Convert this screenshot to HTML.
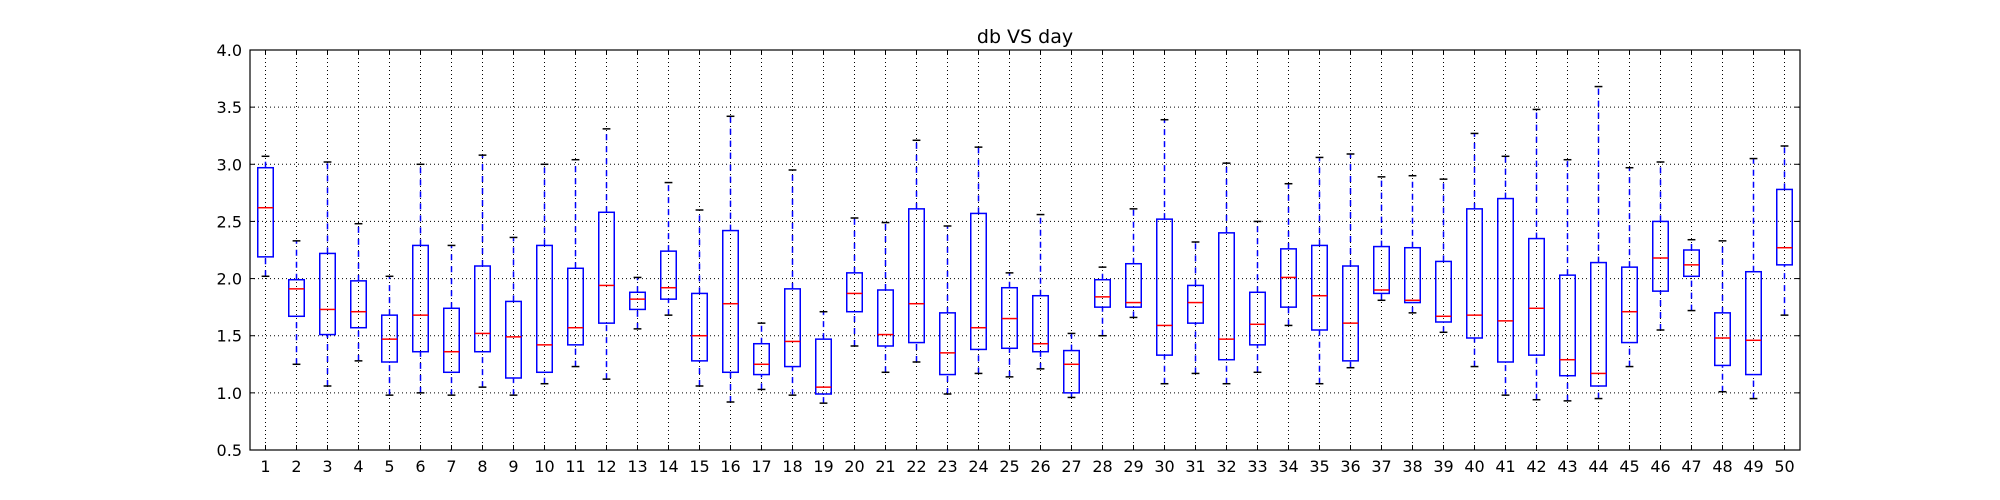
<!DOCTYPE html>
<html><head><meta charset="utf-8"><style>body{margin:0;background:#fff}svg{display:block}</style></head>
<body>
<svg id="s" width="2000" height="500" xmlns="http://www.w3.org/2000/svg" font-family="'DejaVu Sans','Liberation Sans',sans-serif"></svg>
<script>
const D=[[2.02,2.19,2.62,2.97,3.07],[1.25,1.67,1.91,1.99,2.33],[1.06,1.51,1.73,2.22,3.02],[1.28,1.57,1.71,1.98,2.48],[0.98,1.27,1.47,1.68,2.02],[1.0,1.36,1.68,2.29,3.0],[0.98,1.18,1.36,1.74,2.29],[1.05,1.36,1.52,2.11,3.08],[0.98,1.13,1.49,1.80,2.36],[1.08,1.18,1.42,2.29,3.0],[1.23,1.42,1.57,2.09,3.04],
[1.12,1.61,1.94,2.58,3.31],[1.56,1.73,1.82,1.88,2.01],[1.68,1.82,1.92,2.24,2.84],[1.06,1.28,1.50,1.87,2.60],[0.92,1.18,1.78,2.42,3.42],[1.03,1.16,1.25,1.43,1.61],[0.98,1.23,1.45,1.91,2.95],[0.91,0.99,1.05,1.47,1.71],[1.41,1.71,1.87,2.05,2.53],[1.18,1.41,1.51,1.90,2.49],[1.27,1.44,1.78,2.61,3.21],[0.99,1.16,1.35,1.70,2.46],[1.17,1.38,1.57,2.57,3.15],[1.14,1.39,1.65,1.92,2.05],[1.21,1.36,1.43,1.85,2.56],[0.96,1.00,1.25,1.37,1.52],[1.50,1.75,1.84,1.99,2.10],[1.66,1.75,1.79,2.13,2.61],[1.08,1.33,1.59,2.52,3.39],[1.17,1.61,1.79,1.94,2.32],[1.08,1.29,1.47,2.40,3.01],[1.18,1.42,1.60,1.88,2.50],[1.59,1.75,2.01,2.26,2.83],[1.08,1.55,1.85,2.29,3.06],[1.22,1.28,1.61,2.11,3.09],[1.81,1.87,1.90,2.28,2.89],[1.70,1.79,1.81,2.27,2.90],[1.53,1.62,1.67,2.15,2.87],[1.23,1.48,1.68,2.61,3.27],[0.98,1.27,1.63,2.70,3.07],[0.94,1.33,1.74,2.35,3.48],[0.93,1.15,1.29,2.03,3.04],[0.95,1.06,1.17,2.14,3.68],[1.23,1.44,1.71,2.10,2.97],[1.55,1.89,2.18,2.50,3.02],[1.72,2.02,2.12,2.25,2.34],[1.01,1.24,1.48,1.70,2.33],[0.95,1.16,1.46,2.06,3.05],[1.68,2.12,2.27,2.78,3.16]];
const L=250,R=1800,T=50,B=450;
const y=v=>B-(v-0.5)*(400/3.5);
const x=i=>L+31*(i-0.5);
let h='';
h+=`<text x="1025" y="43" font-size="19" text-anchor="middle">db VS day</text>`;
for(let k=0;k<8;k++){const v=0.5+k*0.5,yy=y(v);
 if(k>0&&k<7)h+=`<line x1="${L}" x2="${R}" y1="${yy}" y2="${yy}" stroke="#000" stroke-width="1" stroke-dasharray="1,3"/>`;
 h+=`<line x1="${L}" x2="${L+5}" y1="${yy}" y2="${yy}" stroke="#000"/><line x1="${R-5}" x2="${R}" y1="${yy}" y2="${yy}" stroke="#000"/>`;
 h+=`<text x="${L-8}" y="${yy+6}" font-size="16" text-anchor="end">${v.toFixed(1)}</text>`;}
for(let i=1;i<=50;i++){const xx=x(i);
 h+=`<line x1="${xx}" x2="${xx}" y1="${T}" y2="${B}" stroke="#000" stroke-width="1" stroke-dasharray="1,3"/>`;
 h+=`<line x1="${xx}" x2="${xx}" y1="${B}" y2="${B-5}" stroke="#000"/><line x1="${xx}" x2="${xx}" y1="${T}" y2="${T+5}" stroke="#000"/>`;
 h+=`<text x="${xx}" y="${B+22}" font-size="16" text-anchor="middle">${i}</text>`;}
D.forEach((d,j)=>{const xx=x(j+1),w=7.75,c=3.9;
 h+=`<line x1="${xx}" x2="${xx}" y1="${y(d[0])}" y2="${y(d[1])}" stroke="#00f" stroke-width="1.5" stroke-dasharray="6,6"/>`;
 h+=`<line x1="${xx}" x2="${xx}" y1="${y(d[3])}" y2="${y(d[4])}" stroke="#00f" stroke-width="1.5" stroke-dasharray="6,6"/>`;
 h+=`<line x1="${xx-c}" x2="${xx+c}" y1="${y(d[0])}" y2="${y(d[0])}" stroke="#000" stroke-width="1.5"/>`;
 h+=`<line x1="${xx-c}" x2="${xx+c}" y1="${y(d[4])}" y2="${y(d[4])}" stroke="#000" stroke-width="1.5"/>`;
 h+=`<rect x="${xx-w}" y="${y(d[3])}" width="${2*w}" height="${y(d[1])-y(d[3])}" fill="none" stroke="#00f" stroke-width="1.5"/>`;
 h+=`<line x1="${xx-w}" x2="${xx+w}" y1="${y(d[2])}" y2="${y(d[2])}" stroke="#f00" stroke-width="1.5"/>`;});
h+=`<rect x="${L}" y="${T}" width="${R-L}" height="${B-T}" fill="none" stroke="#000" stroke-width="1.2"/>`;
document.getElementById('s').innerHTML=h;
</script>
</body></html>
